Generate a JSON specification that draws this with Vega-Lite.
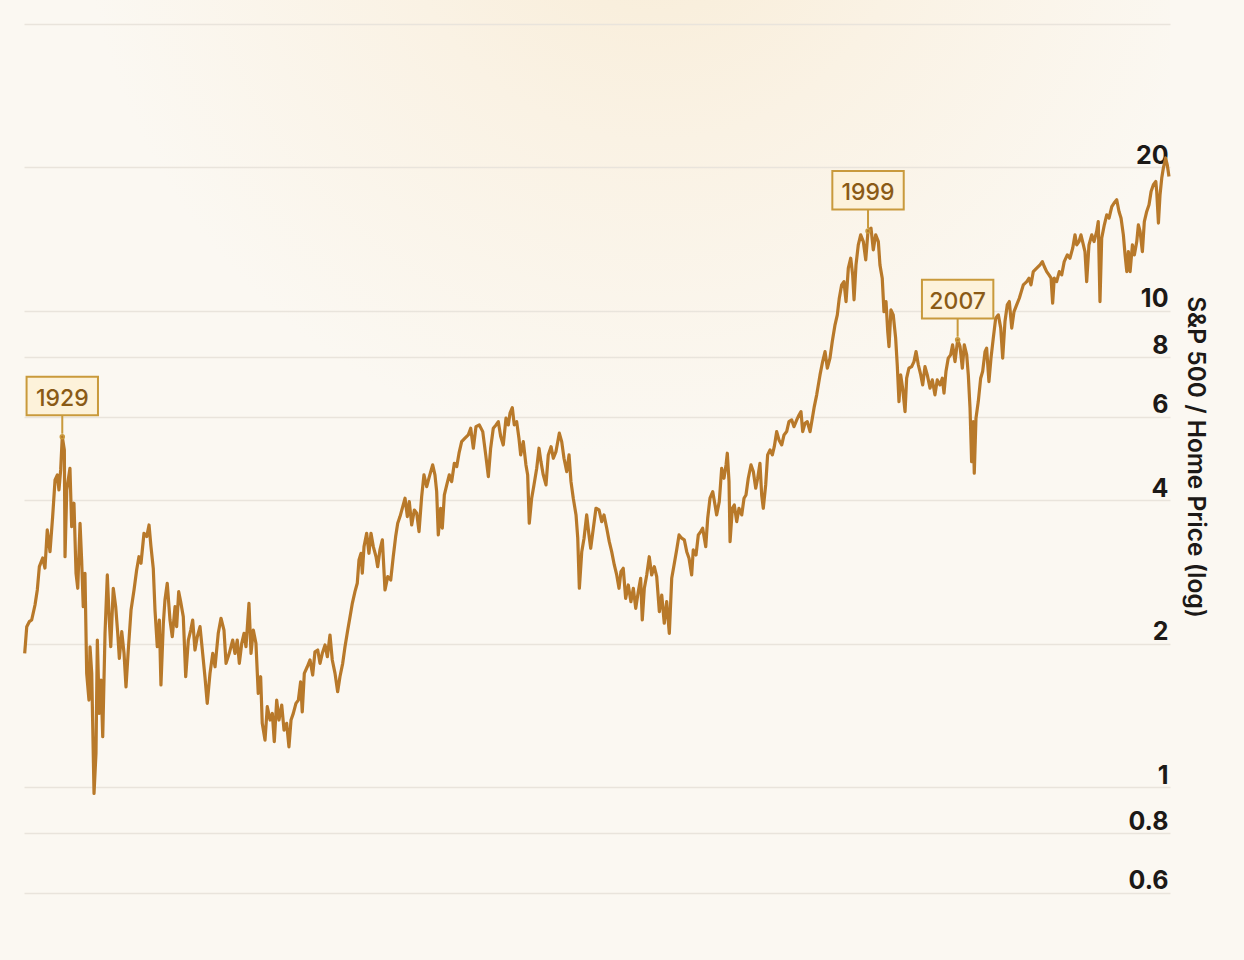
{
  "$schema": "https://vega.github.io/schema/vega-lite/v6.json",
  "width": 1146,
  "height": 913,
  "autosize": {"type": "none"},
  "padding": {"left": 24, "top": 0, "right": 74, "bottom": 47},
  "background": "#fbf8f2",
  "view": {"stroke": null, "fill": {"expr": "{gradient: 'radial', x1: 0.55, y1: 0, r1: 0, x2: 0.55, y2: 0, r2: 0.5, stops: [{offset: 0, color: '#f8ecd6'}, {offset: 0.45, color: '#faf2e4'}, {offset: 1, color: '#fbf8f2'}]}"}},
  "config": {"font": "Inter"},
  "datasets": {
    "series": [
      {"year":1926.36,"ratio":1.909},{"year":1926.54,"ratio":2.172},{"year":1926.76,"ratio":2.225},{"year":1926.97,"ratio":2.243},{"year":1927.26,"ratio":2.412},{"year":1927.46,"ratio":2.594},{"year":1927.64,"ratio":2.903},{"year":1927.93,"ratio":3.027},{"year":1928.13,"ratio":2.884},{"year":1928.33,"ratio":3.467},{"year":1928.57,"ratio":3.121},{"year":1928.80,"ratio":3.698},{"year":1929.01,"ratio":4.416},{"year":1929.21,"ratio":4.524},{"year":1929.35,"ratio":4.206},{"year":1929.50,"ratio":4.634},{"year":1929.64,"ratio":5.443},{"year":1929.82,"ratio":5.105},{"year":1929.88,"ratio":3.046},{"year":1930.03,"ratio":4.206},{"year":1930.31,"ratio":4.672},{"year":1930.46,"ratio":3.523},{"year":1930.66,"ratio":3.945},{"year":1930.84,"ratio":2.812},{"year":1930.99,"ratio":2.615},{"year":1931.19,"ratio":3.581},{"year":1931.33,"ratio":2.998},{"year":1931.47,"ratio":2.392},{"year":1931.62,"ratio":2.812},{"year":1931.77,"ratio":1.733},{"year":1931.97,"ratio":1.523},{"year":1932.06,"ratio":1.971},{"year":1932.21,"ratio":1.733},{"year":1932.41,"ratio":0.970},{"year":1932.58,"ratio":1.177},{"year":1932.70,"ratio":2.036},{"year":1932.87,"ratio":1.428},{"year":1933.02,"ratio":1.678},{"year":1933.17,"ratio":1.276},{"year":1933.37,"ratio":2.103},{"year":1933.57,"ratio":2.789},{"year":1933.74,"ratio":2.243},{"year":1933.87,"ratio":1.971},{"year":1934.09,"ratio":2.615},{"year":1934.30,"ratio":2.392},{"year":1934.48,"ratio":2.103},{"year":1934.62,"ratio":1.864},{"year":1934.83,"ratio":2.120},{"year":1935.03,"ratio":1.909},{"year":1935.20,"ratio":1.624},{"year":1935.40,"ratio":1.940},{"year":1935.64,"ratio":2.354},{"year":1935.90,"ratio":2.594},{"year":1936.13,"ratio":2.857},{"year":1936.33,"ratio":3.046},{"year":1936.51,"ratio":2.951},{"year":1936.77,"ratio":3.412},{"year":1937.01,"ratio":3.357},{"year":1937.21,"ratio":3.551},{"year":1937.38,"ratio":3.198},{"year":1937.58,"ratio":2.880},{"year":1937.73,"ratio":2.354},{"year":1937.93,"ratio":1.971},{"year":1938.11,"ratio":2.243},{"year":1938.25,"ratio":1.638},{"year":1938.46,"ratio":2.208},{"year":1938.60,"ratio":2.471},{"year":1938.80,"ratio":2.679},{"year":1939.04,"ratio":2.243},{"year":1939.24,"ratio":2.069},{"year":1939.48,"ratio":2.392},{"year":1939.62,"ratio":2.172},{"year":1939.80,"ratio":2.572},{"year":1939.97,"ratio":2.451},{"year":1940.20,"ratio":2.279},{"year":1940.41,"ratio":1.705},{"year":1940.64,"ratio":2.036},{"year":1940.85,"ratio":2.137},{"year":1941.02,"ratio":2.243},{"year":1941.22,"ratio":1.940},{"year":1941.42,"ratio":2.069},{"year":1941.66,"ratio":2.172},{"year":1941.89,"ratio":1.909},{"year":1942.09,"ratio":1.705},{"year":1942.29,"ratio":1.499},{"year":1942.53,"ratio":1.733},{"year":1942.77,"ratio":1.909},{"year":1942.97,"ratio":1.789},{"year":1943.25,"ratio":2.103},{"year":1943.49,"ratio":2.262},{"year":1943.75,"ratio":2.137},{"year":1943.93,"ratio":1.819},{"year":1944.21,"ratio":1.909},
      {"year":1944.51,"ratio":2.036},{"year":1944.71,"ratio":1.909},{"year":1944.91,"ratio":2.036},{"year":1945.09,"ratio":1.819},{"year":1945.30,"ratio":2.004},{"year":1945.50,"ratio":2.103},{"year":1945.67,"ratio":1.971},{"year":1945.93,"ratio":2.432},{"year":1946.11,"ratio":1.909},{"year":1946.31,"ratio":2.137},{"year":1946.54,"ratio":2.004},{"year":1946.74,"ratio":1.573},{"year":1946.95,"ratio":1.705},{"year":1947.09,"ratio":1.361},{"year":1947.33,"ratio":1.255},{"year":1947.53,"ratio":1.475},{"year":1947.77,"ratio":1.383},{"year":1947.97,"ratio":1.428},{"year":1948.14,"ratio":1.245},{"year":1948.35,"ratio":1.523},{"year":1948.55,"ratio":1.383},{"year":1948.79,"ratio":1.487},{"year":1948.99,"ratio":1.317},{"year":1949.22,"ratio":1.361},{"year":1949.42,"ratio":1.215},{"year":1949.60,"ratio":1.383},{"year":1949.80,"ratio":1.428},{"year":1950.03,"ratio":1.499},{"year":1950.24,"ratio":1.523},{"year":1950.44,"ratio":1.664},{"year":1950.58,"ratio":1.439},{"year":1950.76,"ratio":1.733},{"year":1951.02,"ratio":1.789},{"year":1951.26,"ratio":1.849},{"year":1951.49,"ratio":1.719},{"year":1951.69,"ratio":1.924},{"year":1951.93,"ratio":1.940},{"year":1952.13,"ratio":1.819},{"year":1952.33,"ratio":1.909},{"year":1952.57,"ratio":1.988},{"year":1952.77,"ratio":1.878},{"year":1953.00,"ratio":2.086},{"year":1953.20,"ratio":1.849},{"year":1953.44,"ratio":1.733},{"year":1953.67,"ratio":1.586},{"year":1953.87,"ratio":1.705},{"year":1954.11,"ratio":1.819},{"year":1954.31,"ratio":1.971},{"year":1954.55,"ratio":2.137},{"year":1954.75,"ratio":2.279},{"year":1954.95,"ratio":2.432},{"year":1955.18,"ratio":2.572},{"year":1955.38,"ratio":2.679},{"year":1955.53,"ratio":2.998},{"year":1955.71,"ratio":3.097},{"year":1955.82,"ratio":2.812},{"year":1955.97,"ratio":3.198},{"year":1956.20,"ratio":3.412},{"year":1956.40,"ratio":3.097},{"year":1956.58,"ratio":3.412},{"year":1956.78,"ratio":3.198},{"year":1957.02,"ratio":3.046},{"year":1957.16,"ratio":2.903},{"year":1957.36,"ratio":3.147},{"year":1957.57,"ratio":3.304},{"year":1957.80,"ratio":2.594},{"year":1958.04,"ratio":2.766},{"year":1958.30,"ratio":2.722},{"year":1958.52,"ratio":3.046},{"year":1958.73,"ratio":3.357},{"year":1958.91,"ratio":3.581},{"year":1959.11,"ratio":3.698},{"year":1959.35,"ratio":3.880},{"year":1959.55,"ratio":4.042},{"year":1959.75,"ratio":3.698},{"year":1959.92,"ratio":3.976},{"year":1960.13,"ratio":3.551},{"year":1960.36,"ratio":3.818},{"year":1960.57,"ratio":3.758},{"year":1960.77,"ratio":3.439},{"year":1961.00,"ratio":4.073},{"year":1961.20,"ratio":4.524},{"year":1961.44,"ratio":4.275},{"year":1961.67,"ratio":4.486},
      {"year":1961.96,"ratio":4.748},{"year":1962.16,"ratio":4.524},{"year":1962.31,"ratio":4.172},{"year":1962.45,"ratio":3.384},{"year":1962.66,"ratio":3.850},{"year":1962.80,"ratio":3.496},{"year":1962.98,"ratio":4.106},{"year":1963.19,"ratio":4.310},{"year":1963.41,"ratio":4.524},{"year":1963.62,"ratio":4.379},{"year":1963.85,"ratio":4.786},{"year":1964.06,"ratio":4.709},{"year":1964.26,"ratio":5.024},{"year":1964.49,"ratio":5.313},{"year":1964.78,"ratio":5.402},{"year":1965.07,"ratio":5.489},{"year":1965.28,"ratio":5.670},{"year":1965.51,"ratio":5.147},{"year":1965.74,"ratio":5.713},{"year":1966.03,"ratio":5.761},{"year":1966.33,"ratio":5.577},{"year":1966.59,"ratio":4.983},{"year":1966.82,"ratio":4.486},{"year":1967.02,"ratio":5.147},{"year":1967.25,"ratio":5.670},{"year":1967.49,"ratio":5.761},{"year":1967.69,"ratio":5.853},{"year":1967.90,"ratio":5.443},{"year":1968.12,"ratio":5.229},{"year":1968.36,"ratio":5.951},{"year":1968.56,"ratio":5.761},{"year":1968.71,"ratio":6.096},{"year":1968.91,"ratio":6.263},{"year":1969.08,"ratio":5.761},{"year":1969.29,"ratio":5.853},{"year":1969.49,"ratio":5.402},{"year":1969.64,"ratio":4.983},{"year":1969.87,"ratio":5.313},{"year":1970.10,"ratio":4.748},{"year":1970.25,"ratio":4.524},{"year":1970.39,"ratio":3.581},{"year":1970.60,"ratio":4.042},{"year":1970.80,"ratio":4.310},{"year":1971.04,"ratio":4.672},{"year":1971.24,"ratio":5.147},{"year":1971.41,"ratio":4.824},{"year":1971.61,"ratio":4.524},{"year":1971.85,"ratio":4.310},{"year":1972.05,"ratio":4.983},{"year":1972.29,"ratio":5.186},{"year":1972.49,"ratio":4.903},{"year":1972.72,"ratio":5.064},{"year":1973.01,"ratio":5.535},{"year":1973.22,"ratio":5.313},{"year":1973.42,"ratio":4.903},{"year":1973.66,"ratio":4.597},{"year":1973.86,"ratio":4.983},{"year":1974.03,"ratio":4.379},{"year":1974.23,"ratio":4.042},{"year":1974.47,"ratio":3.728},{"year":1974.62,"ratio":3.331},{"year":1974.76,"ratio":2.615},{"year":1974.97,"ratio":3.121},{"year":1975.17,"ratio":3.331},{"year":1975.40,"ratio":3.728},{"year":1975.60,"ratio":3.384},{"year":1975.75,"ratio":3.173},{"year":1975.98,"ratio":3.496},{"year":1976.21,"ratio":3.850},{"year":1976.48,"ratio":3.818},{"year":1976.71,"ratio":3.609},{"year":1976.91,"ratio":3.728},{"year":1977.15,"ratio":3.496},{"year":1977.37,"ratio":3.276},{"year":1977.58,"ratio":3.121},{"year":1977.81,"ratio":2.927},{"year":1978.02,"ratio":2.789},{"year":1978.22,"ratio":2.615},{"year":1978.39,"ratio":2.834},{"year":1978.59,"ratio":2.880},{"year":1978.80,"ratio":2.491},{"year":1979.03,"ratio":2.657},
      {"year":1979.26,"ratio":2.451},{"year":1979.47,"ratio":2.615},{"year":1979.68,"ratio":2.373},{"year":1979.90,"ratio":2.572},{"year":1980.11,"ratio":2.744},{"year":1980.25,"ratio":2.243},{"year":1980.43,"ratio":2.615},{"year":1980.64,"ratio":2.789},{"year":1980.86,"ratio":3.046},{"year":1981.07,"ratio":2.789},{"year":1981.30,"ratio":2.903},{"year":1981.51,"ratio":2.766},{"year":1981.74,"ratio":2.335},{"year":1981.95,"ratio":2.531},{"year":1982.17,"ratio":2.208},{"year":1982.38,"ratio":2.451},{"year":1982.61,"ratio":2.103},{"year":1982.82,"ratio":2.744},{"year":1983.05,"ratio":2.951},{"year":1983.25,"ratio":3.147},{"year":1983.46,"ratio":3.384},{"year":1983.69,"ratio":3.331},{"year":1983.92,"ratio":3.304},{"year":1984.13,"ratio":3.121},{"year":1984.33,"ratio":3.023},{"year":1984.56,"ratio":2.789},{"year":1984.70,"ratio":3.147},{"year":1984.94,"ratio":3.072},{"year":1985.14,"ratio":3.384},{"year":1985.35,"ratio":3.439},{"year":1985.52,"ratio":3.496},{"year":1985.79,"ratio":3.198},{"year":1985.96,"ratio":3.669},{"year":1986.16,"ratio":4.042},{"year":1986.40,"ratio":4.172},{"year":1986.60,"ratio":3.912},{"year":1986.74,"ratio":3.728},{"year":1986.97,"ratio":3.976},{"year":1987.18,"ratio":4.672},{"year":1987.38,"ratio":4.451},{"year":1987.56,"ratio":4.748},{"year":1987.67,"ratio":5.024},{"year":1987.82,"ratio":4.379},{"year":1987.91,"ratio":3.276},{"year":1988.11,"ratio":3.850},{"year":1988.28,"ratio":3.912},{"year":1988.49,"ratio":3.609},{"year":1988.69,"ratio":3.850},{"year":1988.93,"ratio":3.728},{"year":1989.13,"ratio":4.042},{"year":1989.30,"ratio":4.106},{"year":1989.50,"ratio":4.451},{"year":1989.74,"ratio":4.748},{"year":1989.94,"ratio":4.597},{"year":1990.15,"ratio":4.242},{"year":1990.32,"ratio":4.451},{"year":1990.52,"ratio":4.786},{"year":1990.67,"ratio":4.106},{"year":1990.81,"ratio":3.850},{"year":1991.02,"ratio":4.310},{"year":1991.19,"ratio":4.983},{"year":1991.40,"ratio":5.105},{"year":1991.60,"ratio":4.983},{"year":1991.77,"ratio":5.186},{"year":1991.98,"ratio":5.577},{"year":1992.18,"ratio":5.358},{"year":1992.42,"ratio":5.229},{"year":1992.62,"ratio":5.489},{"year":1992.85,"ratio":5.577},{"year":1993.05,"ratio":5.853},{"year":1993.29,"ratio":5.902},{"year":1993.49,"ratio":5.713},{"year":1993.73,"ratio":5.902},{"year":1993.93,"ratio":6.045},{"year":1994.10,"ratio":6.143},{"year":1994.25,"ratio":5.577},{"year":1994.45,"ratio":5.808},{"year":1994.65,"ratio":5.853},{"year":1994.89,"ratio":5.577},{"year":1995.09,"ratio":5.951},{"year":1995.26,"ratio":6.295},{"year":1995.47,"ratio":6.663},
      {"year":1995.76,"ratio":7.337},{"year":1995.99,"ratio":7.826},{"year":1996.20,"ratio":8.211},{"year":1996.40,"ratio":7.578},{"year":1996.63,"ratio":7.956},{"year":1996.83,"ratio":8.619},{"year":1997.07,"ratio":9.345},{"year":1997.27,"ratio":9.808},{"year":1997.44,"ratio":10.63},{"year":1997.65,"ratio":11.34},{"year":1997.85,"ratio":11.52},{"year":1998.03,"ratio":10.46},{"year":1998.23,"ratio":12.29},{"year":1998.44,"ratio":12.90},{"year":1998.61,"ratio":11.90},{"year":1998.73,"ratio":10.55},{"year":1998.90,"ratio":12.49},{"year":1999.10,"ratio":13.76},{"year":1999.31,"ratio":14.44},{"year":1999.54,"ratio":13.98},{"year":1999.75,"ratio":12.80},{"year":1999.95,"ratio":14.72},{"year":2000.21,"ratio":14.92},{"year":2000.41,"ratio":13.43},{"year":2000.62,"ratio":14.44},{"year":2000.85,"ratio":13.98},{"year":2000.99,"ratio":12.49},{"year":2001.19,"ratio":11.71},{"year":2001.34,"ratio":9.966},{"year":2001.52,"ratio":10.46},{"year":2001.67,"ratio":9.048},{"year":2001.78,"ratio":8.414},{"year":2001.95,"ratio":10.05},{"year":2002.15,"ratio":9.808},{"year":2002.36,"ratio":8.762},{"year":2002.50,"ratio":7.703},{"year":2002.65,"ratio":6.449},{"year":2002.80,"ratio":7.337},{"year":2002.97,"ratio":6.880},{"year":2003.18,"ratio":6.143},{"year":2003.32,"ratio":7.221},{"year":2003.52,"ratio":7.578},{"year":2003.76,"ratio":7.638},{"year":2003.96,"ratio":7.826},{"year":2004.14,"ratio":8.211},{"year":2004.34,"ratio":7.703},{"year":2004.55,"ratio":7.337},{"year":2004.72,"ratio":6.990},{"year":2004.92,"ratio":7.638},{"year":2005.12,"ratio":7.337},{"year":2005.36,"ratio":6.880},{"year":2005.56,"ratio":7.161},{"year":2005.79,"ratio":6.663},{"year":2005.99,"ratio":7.161},{"year":2006.23,"ratio":6.990},{"year":2006.43,"ratio":7.221},{"year":2006.58,"ratio":6.716},{"year":2006.75,"ratio":7.456},{"year":2006.95,"ratio":7.956},{"year":2007.16,"ratio":8.085},{"year":2007.33,"ratio":8.484},{"year":2007.54,"ratio":7.826},{"year":2007.77,"ratio":8.691},{"year":2007.98,"ratio":8.414},{"year":2008.18,"ratio":7.578},{"year":2008.35,"ratio":8.484},{"year":2008.56,"ratio":8.085},{"year":2008.70,"ratio":7.337},{"year":2008.85,"ratio":6.246},{"year":2008.99,"ratio":4.824},{"year":2009.13,"ratio":5.853},{"year":2009.22,"ratio":4.560},{"year":2009.37,"ratio":5.951},{"year":2009.57,"ratio":6.449},{"year":2009.78,"ratio":7.221},{"year":2009.95,"ratio":7.456},{"year":2010.16,"ratio":8.211},{"year":2010.30,"ratio":8.349},{"year":2010.50,"ratio":7.103},{"year":2010.68,"ratio":7.956},{"year":2010.88,"ratio":8.762},{"year":2011.09,"ratio":9.654},{"year":2011.32,"ratio":9.808},{"year":2011.53,"ratio":9.199},{"year":2011.70,"ratio":7.956},{"year":2011.90,"ratio":9.495},{"year":2012.10,"ratio":10.29},{"year":2012.28,"ratio":10.46},{"year":2012.49,"ratio":9.199},{"year":2012.69,"ratio":9.966},{"year":2012.92,"ratio":10.29},{"year":2013.15,"ratio":10.63},
      {"year":2013.50,"ratio":11.34},{"year":2013.80,"ratio":11.52},{"year":2014.00,"ratio":11.71},{"year":2014.17,"ratio":11.34},{"year":2014.37,"ratio":12.09},{"year":2014.67,"ratio":12.29},{"year":2014.96,"ratio":12.49},{"year":2015.16,"ratio":12.69},{"year":2015.33,"ratio":12.39},{"year":2015.54,"ratio":12.09},{"year":2015.74,"ratio":11.90},{"year":2015.92,"ratio":11.71},{"year":2016.06,"ratio":10.38},{"year":2016.20,"ratio":11.71},{"year":2016.41,"ratio":11.52},{"year":2016.64,"ratio":12.09},{"year":2016.85,"ratio":11.90},{"year":2017.07,"ratio":12.69},{"year":2017.34,"ratio":13.11},{"year":2017.57,"ratio":12.90},{"year":2017.81,"ratio":13.54},{"year":2018.01,"ratio":14.44},{"year":2018.16,"ratio":13.76},{"year":2018.36,"ratio":13.98},{"year":2018.53,"ratio":14.44},{"year":2018.74,"ratio":13.76},{"year":2018.88,"ratio":13.32},{"year":2019.03,"ratio":11.52},{"year":2019.23,"ratio":13.76},{"year":2019.47,"ratio":14.44},{"year":2019.67,"ratio":13.98},{"year":2019.90,"ratio":14.68},{"year":2020.04,"ratio":15.40},{"year":2020.19,"ratio":10.46},{"year":2020.34,"ratio":14.21},{"year":2020.57,"ratio":15.16},{"year":2020.78,"ratio":15.91},{"year":2020.98,"ratio":15.65},{"year":2021.22,"ratio":16.56},{"year":2021.42,"ratio":16.84},{"year":2021.65,"ratio":17.11},{"year":2021.85,"ratio":16.17},{"year":2022.03,"ratio":15.65},{"year":2022.23,"ratio":14.44},{"year":2022.38,"ratio":13.11},{"year":2022.53,"ratio":12.09},{"year":2022.67,"ratio":13.32},{"year":2022.82,"ratio":12.09},{"year":2023.02,"ratio":13.76},{"year":2023.19,"ratio":13.11},{"year":2023.40,"ratio":13.98},{"year":2023.54,"ratio":15.16},{"year":2023.69,"ratio":14.68},{"year":2023.89,"ratio":13.32},{"year":2024.06,"ratio":15.40},{"year":2024.27,"ratio":16.17},{"year":2024.47,"ratio":16.70},{"year":2024.65,"ratio":17.81},{"year":2024.85,"ratio":18.40},{"year":2025.06,"ratio":18.69},{"year":2025.14,"ratio":17.81},{"year":2025.29,"ratio":15.29},{"year":2025.43,"ratio":17.53},{"year":2025.58,"ratio":19.00},{"year":2025.72,"ratio":19.94},{"year":2025.92,"ratio":20.94},{"year":2026.06,"ratio":20.26},{"year":2026.21,"ratio":19.15}
    ],
    "peaks": [
      {"year":1929.64,"ratio":5.443,"label":"1929"},
      {"year":1999.95,"ratio":14.72,"label":"1999"},
      {"year":2007.77,"ratio":8.691,"label":"2007"}
    ]
  },
  "encoding": {
    "x": {"field": "year", "type": "quantitative", "scale": {"domain": [1926.3, 2026.3], "nice": false, "zero": false}, "axis": null},
    "y": {"field": "ratio", "type": "quantitative", "scale": {"type": "log", "domain": [0.544, 44.95], "nice": false}, "axis": {
      "orient": "right",
      "values": [0.6, 0.8, 1, 2, 4, 6, 8, 10, 20, 40],
      "format": "~g",
      "labelExpr": "datum.value >= 40 ? '' : datum.label",
      "grid": true, "gridColor": "#e9e4dc", "gridWidth": 1.5,
      "domain": false, "ticks": false, "tickSize": 0,
      "labelAlign": "right", "labelBaseline": "alphabetic", "labelOffset": -4, "labelPadding": -2,
      "labelFont": "Inter", "labelFontSize": 25, "labelFontWeight": 700, "labelColor": "#1c1917",
      "labelOverlap": false, "labelFlush": false, "labelBound": false,
      "title": "S&P 500 / Home Price (log)",
      "titleFont": "Inter", "titleFontSize": 24.5, "titleFontWeight": 600, "titleColor": "#1c1917", "titlePadding": 12
    }}
  },
  "layer": [
    {"data": {"name": "series"}, "mark": {"type": "line", "color": "#b8792a", "strokeWidth": 3.2, "strokeJoin": "round"}},
    {"data": {"name": "peaks"}, "mark": {"type": "point", "shape": "M-3.57,-6 L3.57,-6 L3.57,-2.13 L-3.57,-2.13 Z M0,-2.13 L0,-0.3", "size": 400, "filled": true, "fill": "#fdf2da", "stroke": "#c99a3c", "strokeWidth": 2, "opacity": 1}},
    {"data": {"name": "peaks"}, "mark": {"type": "point", "shape": "circle", "size": 16, "filled": false, "stroke": "#c99a3c", "strokeWidth": 1.5, "opacity": 1}},
    {"data": {"name": "peaks"}, "mark": {"type": "text", "dy": -31, "baseline": "alphabetic", "align": "center", "font": "Inter", "fontSize": 23, "fontWeight": 500, "color": "#8a5a16"}, "encoding": {"text": {"field": "label"}}}
  ]
}
